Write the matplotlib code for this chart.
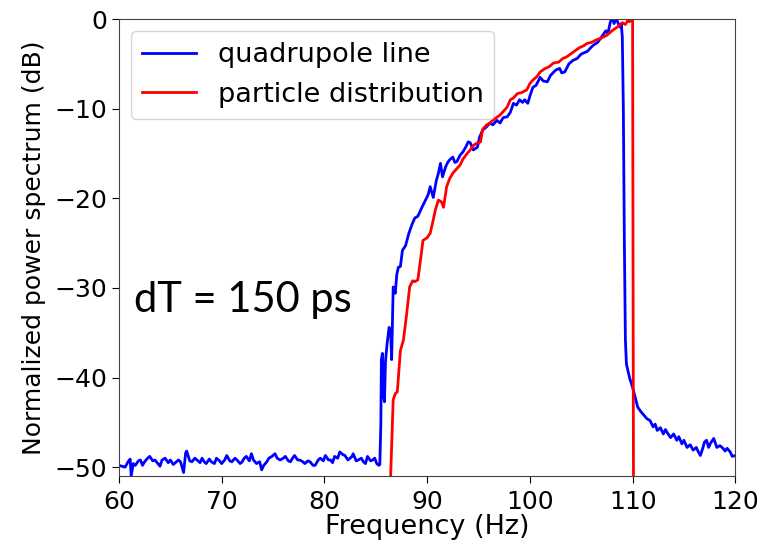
import matplotlib
matplotlib.use('Agg')
import matplotlib.pyplot as plt

plt.rcParams['font.family'] = ['DejaVu Sans']

# quadrupole line (blue): frequency (Hz) and normalized power (dB)
blue_f = [60.0, 60.3, 60.6, 60.9, 61.1, 61.2, 61.4, 61.6, 61.9, 62.1, 62.3, 62.5, 62.8, 63.0,
          63.3, 63.5, 63.8, 64.0, 64.2, 64.5, 64.8, 65.0, 65.3, 65.5, 65.8, 66.0, 66.2, 66.3,
          66.5, 66.6, 66.9, 67.1, 67.4, 67.6, 67.9, 68.1, 68.3, 68.5, 68.8, 69.0, 69.3, 69.5,
          69.8, 70.0, 70.3, 70.5, 70.8, 71.0, 71.3, 71.5, 71.8, 72.0, 72.2, 72.4, 72.7, 72.9,
          73.1, 73.4, 73.7, 73.9, 74.1, 74.4, 74.6, 74.9, 75.2, 75.4, 75.7, 76.0, 76.2, 76.5,
          76.7, 76.9, 77.1, 77.4, 77.6, 77.9, 78.1, 78.4, 78.6, 78.9, 79.1, 79.4, 79.6, 79.9,
          80.1, 80.4, 80.6, 80.8, 81.0, 81.3, 81.5, 81.8, 82.0, 82.3, 82.5, 82.7, 82.8, 83.1,
          83.3, 83.6, 83.8, 84.0, 84.2, 84.5, 84.7, 84.9, 85.1, 85.3, 85.4,
          85.5, 85.55, 85.65, 85.75, 85.85, 85.95, 86.1, 86.3, 86.45, 86.55, 86.7, 86.9, 87.05,
          87.2, 87.4, 87.6, 87.9, 88.2, 88.5, 88.8, 89.1, 89.5, 89.8, 90.1, 90.3, 90.6, 90.9,
          91.1, 91.3, 91.5, 91.8, 92.0, 92.2, 92.5, 92.7, 92.9, 93.2, 93.5, 93.8, 94.0, 94.2,
          94.5, 94.9, 95.1, 95.4, 95.8, 96.1, 96.4, 96.8, 97.1, 97.4, 97.8, 98.1, 98.4, 98.7,
          99.0, 99.3, 99.5, 99.8, 100.0, 100.3, 100.6, 101.0, 101.3, 101.7, 102.0, 102.5, 102.9,
          103.1, 103.4, 103.8, 104.2, 104.6, 105.0, 105.2, 105.6, 106.0, 106.2, 106.6, 107.1,
          107.4, 107.6, 107.8, 108.0, 108.2, 108.4, 108.6, 108.8, 108.9, 109.0, 109.1, 109.2,
          109.3, 109.4, 109.5, 109.7, 110.0, 110.2, 110.5, 110.8, 111.1, 111.4, 111.7, 112.0,
          112.2, 112.4, 112.7, 113.0, 113.2, 113.4, 113.7, 114.0, 114.3, 114.5, 114.8, 115.0,
          115.3, 115.6, 115.9, 116.2, 116.4, 116.6, 116.8, 117.0, 117.2, 117.4, 117.6, 117.9,
          118.2, 118.5, 118.8, 119.0, 119.2, 119.5, 119.7, 120.0]
blue_db = [-49.8, -49.9, -50.0, -49.4, -49.1, -51.0, -49.6, -49.8, -49.3, -49.2, -49.8, -49.4, -49.0, -48.8,
           -49.3, -49.2, -49.6, -49.9, -49.2, -49.0, -49.5, -49.2, -49.7, -49.5, -49.2, -49.4, -50.2, -50.6,
           -48.4, -48.2, -49.3, -49.4, -49.0, -49.2, -49.5, -49.0, -49.4, -49.6, -49.1, -49.4, -49.6, -49.0,
           -49.3, -49.6, -49.2, -48.7, -49.3, -49.4, -49.0, -49.2, -49.6, -49.4, -49.0, -48.8, -49.3, -48.5,
           -49.2, -49.6, -49.4, -50.3, -49.8, -49.4, -49.0, -48.8, -48.5, -49.0, -49.2, -49.0, -48.8, -49.3,
           -49.4, -49.0, -48.7, -49.2, -49.2, -49.4, -49.6, -49.3, -49.4, -49.8, -49.8, -49.2, -49.0, -49.3,
           -48.7, -49.2, -49.2, -49.5, -48.8, -49.0, -48.3, -48.6, -48.7, -49.2, -49.0, -48.8, -48.5, -49.3,
           -49.2, -49.0, -49.4, -49.6, -48.8, -49.3, -49.2, -49.0, -49.6, -49.8, -49.7,
           -45.0, -38.0, -37.3, -42.0, -42.7, -38.2, -36.3, -34.4, -34.8, -38.0, -29.9, -30.6, -28.5,
           -27.7, -27.6, -25.8, -25.3, -24.0, -23.0, -22.2, -22.0, -21.0, -20.3, -19.6, -18.7, -19.9, -18.0,
           -17.2, -16.1, -17.6, -16.5, -16.0, -15.7, -15.4, -16.0, -15.9, -15.2, -14.8, -14.2, -13.7, -13.8,
           -14.6, -14.3, -13.2, -12.4, -12.0, -11.6, -11.8, -11.3, -11.6, -11.0, -10.9, -10.4, -9.4, -9.6,
           -9.0, -9.3, -9.0, -9.4, -8.6, -7.6, -7.4, -6.5, -6.9, -7.0, -6.3, -5.7, -5.5,
           -6.0, -5.9, -5.0, -4.6, -4.4, -3.9, -3.8, -3.6, -3.1, -2.9, -2.6, -1.8,
           -1.3, -1.6, -0.5, 0.3, -0.5, 0.2, -0.5, -0.9, -0.5, -2.0, -10.0, -25.0,
           -35.8, -38.5, -39.0, -40.0, -41.1, -42.0, -43.3, -43.8, -44.2, -44.6, -44.8, -45.5,
           -45.2, -45.9, -45.6, -46.3, -45.8, -46.2, -46.7, -46.3, -47.0, -46.6, -47.4, -47.0,
           -47.8, -47.5, -48.1, -47.8, -48.3, -48.7, -48.0, -47.2, -47.0, -47.8, -47.3, -46.8,
           -47.8, -47.6, -47.9, -48.2, -47.9, -48.3, -48.8, -48.7]

# particle distribution (red)
red_f = [86.3, 86.45, 86.7, 86.9, 87.1, 87.4, 87.7, 88.0, 88.3, 88.6, 88.8, 89.1, 89.4, 89.6,
         90.0, 90.3, 90.6, 90.8, 91.1, 91.4, 91.6, 91.9, 92.2, 92.5, 92.8, 93.2, 93.5, 93.9,
         94.2, 94.5, 94.9, 95.2, 95.4, 95.8, 96.1, 96.5, 97.1, 97.5, 97.8, 98.1, 98.4, 98.8,
         99.2, 99.7, 100.0, 100.3, 100.7, 101.0, 101.5, 101.9, 102.3, 102.8, 103.2, 103.6,
         104.2, 104.8, 105.2, 105.6, 106.0, 106.5, 107.0, 107.5, 108.0, 108.5, 109.0, 109.3,
         109.5, 109.7, 110.0, 110.1]
red_db = [-60.0, -51.0, -42.5, -41.8, -41.6, -37.0, -35.8, -33.0, -29.9, -29.2, -29.3, -29.1, -26.5, -24.7,
          -24.4, -23.9, -22.4, -21.3, -20.2, -20.4, -21.0, -18.7, -17.8, -17.2, -16.8, -16.3, -15.6, -15.0,
          -14.6, -14.1, -13.8, -13.7, -12.3, -11.8, -11.6, -11.2, -10.7, -10.2, -9.8, -9.0, -8.8, -8.3,
          -8.2, -7.9, -7.2, -6.8, -6.4, -5.9, -5.5, -5.3, -4.9, -4.8, -4.4, -4.2,
          -3.7, -3.2, -3.0, -2.7, -2.6, -2.3, -2.1, -1.8, -1.3, -0.9, -0.4, -0.6,
          -0.2, -0.3, 0.2, -60.0]

fig = plt.figure(figsize=(7.62, 5.46), dpi=100)
ax = fig.add_axes([0.156, 0.128, 0.809, 0.837])

ax.plot(blue_f, blue_db, color='blue', lw=2, label='quadrupole line')
ax.plot(red_f, red_db, color='red', lw=2, label='particle distribution')

ax.set_xlim(60, 120)
ax.set_ylim(-51, 0)
ax.set_xticks([60, 70, 80, 90, 100, 110, 120])
ax.set_yticks([0, -10, -20, -30, -40, -50])
ax.tick_params(labelsize=18, length=5)
ax.tick_params(axis='x', pad=5)
for s in ax.spines.values():
    s.set_color('#444444')
ax.set_xlabel('Frequency (Hz)', fontsize=19.5, labelpad=0)
ax.set_ylabel('Normalized power spectrum (dB)', fontsize=18, labelpad=6)
ax.legend(loc='upper left', fontsize=19.5, borderaxespad=0.45)

ax.text(61.5, -31.4, 'dT = 150 ps', fontsize=30, family=['Lato', 'DejaVu Sans'], va='center')

fig.savefig('out.png', dpi=100)
